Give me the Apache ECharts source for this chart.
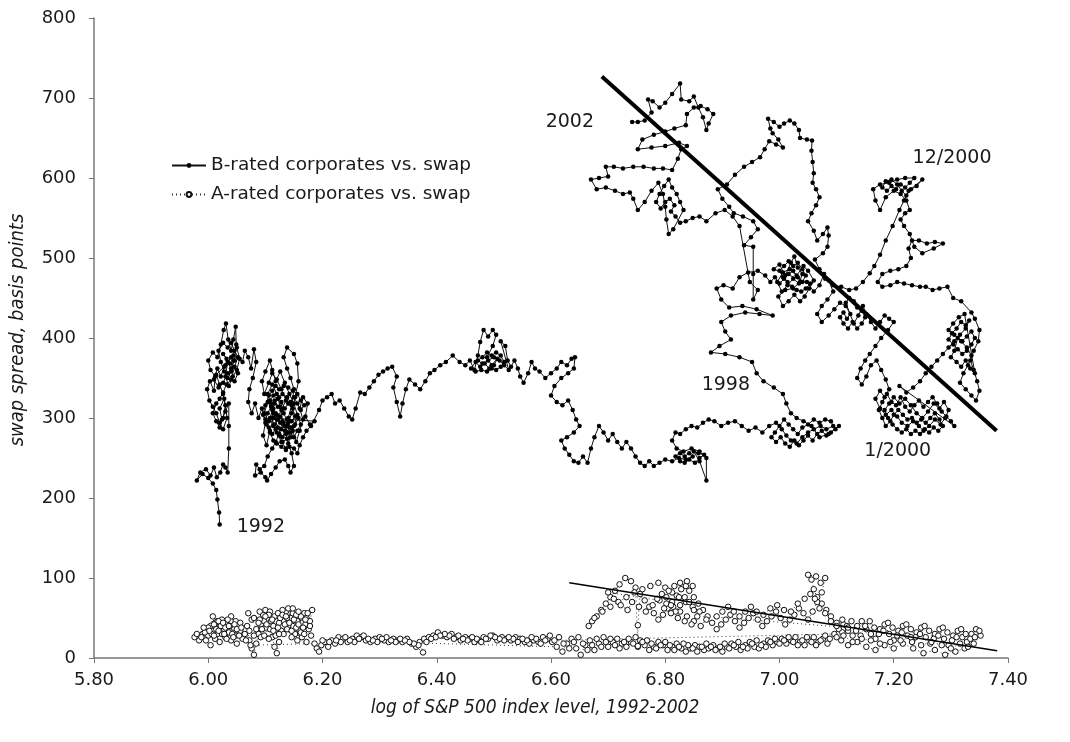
<!DOCTYPE html>
<html>
<head>
<meta charset="utf-8">
<script src="https://cdn.jsdelivr.net/npm/echarts@6/dist/echarts.min.js"></script>
<style>html,body{margin:0;padding:0;background:#fff}#c{width:1070px;height:742px}</style>
</head>
<body>
<div id="c"></div>
<script>
// x = log of S&P 500 index level, y = swap spread (bp)
const xTicks = [5.8, 6.0, 6.2, 6.4, 6.6, 6.8, 7.0, 7.2, 7.4];
const yTicks = [0, 100, 200, 300, 400, 500, 600, 700, 800];

// ---- B-rated corporates vs. swap, in time order ----
const b1992 = [
[6.020,167],[6.019,182],[6.016,198],[6.014,210],[6.008,218],[6.000,225],[5.990,230],[5.980,222],[5.986,232],[5.996,236],
[6.004,228],[6.010,238],[6.015,226],[6.021,232],[6.026,242],[6.030,238],[6.034,232],[6.036,262],[6.036,290],[6.036,318],
[6.030,308],[6.024,298],[6.020,312],[6.028,324],[6.033,300],[6.026,286],[6.020,294],[6.014,306],[6.008,314],[6.002,322],
[5.998,336],[6.003,346],[6.010,334],[6.012,352],[6.004,360],[6.000,372],[6.008,382],[6.016,376],[6.022,392],[6.027,410],
[6.031,418],[6.035,398],[6.040,384],[6.044,398],[6.048,414],[6.049,392],[6.046,372],[6.040,362],[6.034,370],[6.030,352],
[6.036,340],[6.043,352],[6.050,360],[6.055,374],[6.050,388],[6.040,376],[6.028,364],[6.022,352],[6.016,362],[6.010,348],
[6.018,338],[6.026,344],[6.034,356],[6.046,346],[6.052,356],
[6.026,380],[6.032,374],[6.038,368],[6.044,372],[6.040,358],[6.034,350],[6.028,358],[6.022,370],[6.018,384],[6.026,394],
[6.034,388],[6.040,394],[6.046,384],[6.052,376],[6.046,364],[6.040,348],[6.032,342],[6.026,332],[6.020,324],[6.014,318],
[6.008,306],[6.014,296],[6.020,288],[6.026,300],[6.030,316],[6.026,330],[6.020,342],[6.014,354],
[6.030,366],[6.044,378],[6.060,370],[6.064,384],[6.070,376]
];
const b1993 = [
[6.075,362],[6.080,386],[6.084,370],[6.078,350],[6.072,336],[6.070,320],[6.076,306],[6.082,318],[6.088,300],[6.094,312],
[6.100,294],[6.096,278],[6.102,266],[6.108,284],[6.114,300],[6.110,318],[6.104,330],[6.112,342],[6.120,330],[6.126,314],
[6.130,296],[6.124,280],[6.118,270],[6.112,262],[6.104,252],[6.098,240],[6.090,236],[6.084,242],[6.082,228],[6.092,232],
[6.100,226],[6.103,222],[6.110,230],[6.118,238],[6.125,246],[6.134,248],[6.140,240],[6.144,232],[6.150,240],[6.146,256],
[6.140,268],[6.134,284],[6.140,300],[6.146,316],[6.150,336],[6.144,350],[6.138,362],[6.132,376],[6.138,388],[6.150,380],
[6.156,368],[6.158,346],[6.152,326],[6.146,306],[6.138,290],[6.130,276],[6.122,288],[6.114,306],[6.106,296],[6.098,306],
[6.104,320],[6.112,310],[6.120,298],[6.128,310],[6.136,322],[6.128,336],[6.120,348],[6.112,356],[6.106,344],[6.098,330],
[6.094,346],[6.100,358],[6.108,372],[6.112,360],[6.118,346],[6.126,358],[6.134,344],[6.142,330],[6.150,318],[6.156,304],
[6.150,290],[6.144,276],[6.136,262],[6.128,270],[6.120,282],[6.114,290],[6.108,300],[6.116,318],[6.124,326],[6.132,306],
[6.140,294],[6.148,284],[6.154,270],[6.160,284],[6.166,298],[6.160,312],[6.166,326],[6.174,318],[6.170,302],[6.178,292],
[6.186,296],
[6.110,300],[6.116,292],[6.122,298],[6.118,306],[6.126,302],[6.132,294],[6.128,286],[6.136,280],[6.142,288],[6.138,298],
[6.146,296],[6.152,302],[6.148,312],[6.140,318],[6.134,312],[6.128,320],[6.122,314],[6.116,322],[6.110,314],[6.104,306],
[6.100,298],[6.106,288],[6.112,280],[6.118,286],[6.124,278],[6.130,270],[6.138,274],[6.144,282],[6.150,276],[6.156,284],
[6.162,292],[6.158,300],[6.152,292],[6.146,288],[6.140,282],[6.134,290],[6.126,294],[6.120,304],[6.114,312],[6.108,322],
[6.114,328],[6.122,324],[6.130,330],[6.138,326],[6.144,320],[6.150,326],[6.156,318],[6.162,310],[6.168,316],[6.162,322],
[6.156,330],[6.148,334],[6.140,338],[6.132,340],[6.124,336],[6.118,340],[6.112,334],[6.106,328],[6.100,316],[6.096,304],
[6.102,292],[6.108,282],[6.114,272],[6.120,268],[6.128,264],[6.136,260],[6.142,264],[6.150,262],[6.156,256],[6.160,266],
[6.166,276],[6.172,284],[6.180,290],[6.194,310],[6.200,322],[6.208,326],[6.216,330]
];
const b1995 = [
[6.222,318],[6.230,322],[6.238,312],[6.246,302],[6.252,298],[6.258,312],[6.266,332],[6.274,330],[6.282,338],[6.290,346],
[6.298,354],[6.306,358],[6.314,362],[6.322,364],[6.330,352],[6.324,338],[6.330,320],[6.336,302],[6.340,318],[6.346,336],
[6.352,348],[6.362,342],[6.371,336],[6.380,346],[6.388,356],[6.396,360],[6.406,366],[6.416,370],[6.428,378],[6.440,370],
[6.450,366],[6.458,372],[6.466,360],[6.472,378],[6.476,395],[6.482,410],[6.490,402],[6.498,410],[6.504,404],[6.498,390],
[6.488,376],[6.496,366],[6.506,374],
[6.500,366],[6.492,362],[6.484,368],[6.476,364],[6.468,370],[6.460,362],[6.468,358],[6.478,360],[6.488,358],[6.496,362],
[6.504,360],[6.512,364],[6.518,370],[6.512,378],[6.504,382],[6.496,378],[6.488,382],[6.480,376],[6.472,372],[6.480,368],
[6.490,372],[6.500,376],[6.510,372],[6.518,366],[6.526,360],
[6.512,396],[6.520,390],[6.524,372],[6.530,364],[6.536,372],[6.542,362],[6.546,352],
[6.552,344],[6.560,356],[6.566,370],[6.572,362],[6.580,358],[6.590,350],[6.600,356],[6.610,362],[6.618,370],[6.628,366],
[6.636,374],[6.642,376],[6.640,362],[6.630,356],[6.618,350],[6.606,340],[6.600,328],[6.610,320],[6.620,316],[6.630,322],
[6.638,310],[6.644,298],[6.650,290],[6.640,282],[6.628,276],[6.618,272],[6.624,262],[6.632,254],[6.640,246],[6.648,244],
[6.656,252],[6.664,244]
];
const b1997 = [
[6.670,262],[6.676,276],[6.684,290],[6.692,282],[6.700,272],[6.708,280],[6.716,270],[6.724,262],[6.732,270],[6.740,262],
[6.748,252],[6.756,244],[6.764,240],[6.772,246],[6.780,240],[6.790,244],[6.800,248],[6.812,246],[6.824,250],[6.836,248],
[6.848,252],
[6.842,256],[6.834,252],[6.826,256],[6.818,252],[6.826,246],[6.834,244],[6.842,248],[6.852,244],[6.860,250],[6.868,254],
[6.858,256],[6.850,258],
[6.860,246],[6.872,222],[6.872,250],[6.860,258],[6.846,262],[6.832,258],[6.820,262],[6.812,272],[6.818,282],
[6.826,280],[6.836,286],[6.846,290],[6.856,288],[6.866,294],[6.876,298],[6.886,296],[6.898,290],[6.910,294],[6.922,296],
[6.934,290],[6.946,284],[6.958,288],[6.970,282],[6.982,290],[6.994,294],[7.004,286],[7.012,278],[7.020,272],[7.030,268],
[7.040,276],[7.050,282],[7.060,286],[7.072,290],[7.082,286],[7.094,290],
[7.090,296],[7.080,298],[7.070,294],[7.060,298],[7.050,292],[7.040,288],[7.032,280],[7.024,286],[7.016,292],[7.008,298],
[7.000,290],[6.992,282],[6.986,276],[6.994,270],[7.002,276],[7.010,268],[7.018,264],[7.026,272],[7.034,266],[7.042,272],
[7.050,278],[7.058,272],[7.066,280],[7.074,284],[7.082,278],[7.090,282],[7.098,286],[7.104,290],
[7.086,280],[7.070,276],[7.056,290],[7.042,296],[7.030,300],[7.020,306],[7.012,318],[7.006,330]
];
const b1998 = [
[6.990,338],[6.972,346],[6.960,356],[6.952,370],[6.930,376],[6.905,380],[6.880,382],[6.895,390],[6.915,398],[6.905,408],
[6.898,420],[6.915,428],[6.940,432],[6.965,430],[6.988,428],[6.960,436],[6.935,440],[6.912,438],[6.898,448],[6.890,462],
[6.902,466],[6.918,462],[6.930,476],[6.945,482],[6.962,484],[6.975,478],
[6.984,470],[6.992,476],[7.000,468],[7.008,474],[7.016,480],[7.024,484],[7.032,476],[7.040,470],[7.046,478],[7.040,486],
[7.032,494],[7.024,490],[7.016,496],[7.008,490],[7.000,484],[7.006,476],[7.014,470],[7.022,464],[7.030,460],[7.038,458],
[7.046,462],[7.054,468]
];
const b1999 = [
[6.990,486],[7.000,492],[7.010,478],[7.020,494],[7.026,502],[7.032,488],[7.040,480],[7.034,468],[7.024,474],[7.014,466],
[7.004,458],[6.996,470],[7.006,482],[7.018,486],[7.030,478],[7.042,490],[7.050,484],[7.060,472],[7.052,462],[7.044,452],
[7.036,446],[7.026,454],[7.016,446],[7.006,440],[6.998,452],[7.010,460],[7.024,462],[7.036,470],[7.048,470],[7.060,458],
[7.070,466],[7.078,480],[7.086,472],[7.094,458],[7.084,448],[7.074,440],[7.066,430],[7.074,420],[7.086,428],[7.096,436],
[7.106,444],[7.116,440],[7.124,430],
[7.118,424],[7.112,432],[7.106,426],[7.112,418],[7.120,412],[7.128,420],[7.136,412],[7.144,418],[7.150,426],[7.144,434],
[7.136,438],[7.130,446],[7.122,450],[7.116,444],
[7.130,418],[7.138,428],[7.146,440],[7.152,430],[7.160,420],[7.168,412],[7.176,420],
[7.184,428],[7.192,424],[7.200,420],[7.190,410],[7.178,400],[7.168,390],[7.158,380],[7.150,372],[7.142,362],[7.136,350],
[7.144,342],[7.152,352],[7.160,366],[7.170,372],[7.178,360],[7.186,348],[7.192,336],[7.184,326],[7.176,334],[7.168,324],
[7.176,312],[7.186,304],[7.196,310],[7.206,302],[7.214,294],[7.224,290],[7.234,296],[7.244,290],[7.252,284],[7.262,290],
[7.272,298],[7.282,292],[7.290,300],[7.296,310],[7.288,320],[7.280,312],[7.270,318],[7.260,308],[7.250,300],[7.240,306],
[7.230,316],[7.220,324],[7.210,318],[7.200,326],
[7.192,318],[7.184,310],[7.190,300],[7.198,292],[7.206,286],[7.214,282],[7.222,286],[7.230,280],[7.238,284],[7.246,280],
[7.254,286],[7.262,282],[7.270,288],[7.278,284],[7.286,290],[7.280,298],[7.272,306],[7.264,300],[7.256,294],[7.248,298],
[7.240,294],[7.232,300],[7.224,298],[7.216,304],[7.208,310],[7.200,304],[7.194,296],[7.186,290],[7.180,300],[7.174,310],
[7.180,320],[7.188,330],[7.196,320],[7.204,316],[7.212,326],[7.220,314],[7.228,308],[7.236,316],[7.244,322],[7.252,314],
[7.260,320],[7.268,326],[7.276,318],[7.284,308],[7.292,302],[7.300,296],[7.306,290],
[7.210,340],[7.222,332],[7.234,338],[7.246,346],[7.256,356],[7.266,364],
[7.276,372],[7.286,380],[7.296,388],[7.306,396],[7.316,404],[7.326,412],[7.332,422],
[7.326,416],[7.318,420],[7.310,412],[7.302,406],[7.296,398],[7.304,392],[7.312,386],[7.320,380],[7.328,384],[7.336,392],
[7.342,400],[7.336,408],[7.328,402],[7.320,396],[7.312,400],[7.306,384],[7.300,376],[7.310,370],[7.318,364],[7.326,372],
[7.334,362],[7.342,356],
[7.324,430],[7.314,426],[7.304,418],
[7.296,410],[7.306,404],[7.318,396],[7.328,388],[7.336,378],[7.330,366],[7.322,356],[7.316,344],[7.326,336],[7.336,328],
[7.344,322],[7.350,334],[7.346,346],[7.340,360],[7.334,372],[7.340,384],[7.348,396],[7.350,410],[7.342,424],[7.336,432]
];
const b2000 = [
[7.318,446],[7.304,450],[7.294,464],[7.280,462],[7.268,460],[7.256,464],[7.246,464],[7.232,466],[7.218,468],[7.206,470],
[7.194,466],[7.180,464],[7.172,470],[7.180,480],[7.194,484],[7.208,486],[7.222,490],[7.230,500],[7.226,512],[7.232,522],
[7.244,522],[7.258,518],[7.272,520],[7.286,518],[7.270,512],[7.250,506],[7.236,514],[7.228,530],[7.218,540],[7.212,548],
[7.220,556],[7.228,560],[7.222,572],[7.212,580],[7.200,584],[7.186,576],[7.176,560],[7.168,572],[7.164,586],[7.176,592],
[7.192,594],[7.206,598],[7.220,600],[7.236,600],
[7.228,594],[7.220,588],[7.212,592],[7.204,586],[7.196,590],[7.188,584],[7.180,588],[7.186,596],[7.196,598],[7.206,592],
[7.214,584],[7.222,578],[7.230,586],
[7.250,598],[7.240,590],[7.226,584],[7.218,572],[7.210,560]
];
const b2001 = [
[7.198,540],[7.186,522],[7.176,504],[7.166,490],[7.158,481],[7.146,470],[7.134,462],[7.122,460],[7.108,464],[7.094,466],
[7.080,474],[7.070,486],[7.062,498],[7.076,506],[7.084,514],[7.086,528],[7.084,538],[7.076,530],[7.066,522],[7.060,534],
[7.050,546],[7.056,556],[7.064,566],[7.070,576],[7.064,586],[7.058,594],[7.060,606],[7.058,620],[7.056,634],[7.057,647],
[7.048,648],[7.036,650],[7.034,660],[7.026,668],[7.018,672],[7.008,668],[7.000,664],[6.990,670],[6.980,674],[6.984,662],
[6.988,656],[6.998,648],[7.006,638],[6.994,642],[6.982,646],[6.974,636],[6.966,626],[6.952,620],[6.938,614],[6.922,604],
[6.908,592],[6.892,586],[6.900,574],[6.912,564],[6.920,556],[6.936,552],[6.954,546],[6.962,536],[6.950,526],[6.938,516],
[6.954,514],[6.954,480],[6.954,448],[6.962,460],[6.948,470]
];
const b2002 = [
[6.930,540],[6.918,552],[6.904,560],[6.888,556],[6.872,546],[6.860,552],[6.848,550],[6.836,546],[6.826,544],
[6.818,552],[6.810,558],[6.816,566],[6.808,574],[6.800,570],[6.792,562],[6.784,570],[6.790,580],[6.798,590],[6.806,598],
[6.812,588],[6.820,580],[6.826,570],[6.832,560],[6.814,536],
[6.806,530],[6.802,548],[6.800,564],[6.796,580],[6.788,594],[6.776,584],[6.764,570],[6.752,560],[6.744,574],[6.738,582],
[6.726,580],[6.712,584],[6.696,588],[6.680,586],[6.670,598],[6.684,600],[6.700,602],[6.696,614],[6.710,614],[6.726,612],
[6.744,614],[6.762,614],[6.780,612],[6.796,612],[6.812,610],[6.822,624],[6.828,636],[6.838,640],[6.824,644],[6.800,640],
[6.776,638],[6.752,636],[6.760,648],[6.780,654],[6.800,658],[6.816,662],[6.836,666],[6.838,680],[6.850,688],[6.862,690],
[6.874,686],[6.884,680],[6.876,668],[6.872,660],[6.866,676],[6.858,688],[6.850,702],[6.842,696],[6.828,698],[6.826,718],
[6.812,705],[6.800,694],[6.790,688],[6.778,696],[6.770,698],[6.776,682],[6.764,672],[6.752,670],[6.742,670]
];

// ---- A-rated corporates vs. swap ----
const a1992 = [
[5.976,26],[5.984,22],[5.990,30],[5.996,36],[6.000,28],[6.004,40],[6.008,34],[6.012,44],[6.016,30],[6.020,38],
[6.024,48],[6.028,36],[6.032,42],[6.036,32],[6.040,46],[6.044,38],[6.048,28],[6.052,40],[6.056,34],[6.060,24],
[6.050,18],[6.040,22],[6.030,26],[6.020,20],[6.012,24],[6.004,16],[5.996,22],[6.008,52],[6.016,46],[6.024,30],
[6.032,24],[6.040,52],[6.048,46],[6.056,44],
[5.980,30],[5.988,26],[5.994,32],[6.000,38],[6.006,30],[6.010,42],[6.014,36],[6.018,46],[6.022,40],[6.026,44],
[6.030,38],[6.034,48],[6.038,40],[6.042,30],[6.046,42],[6.050,36],[6.054,28],[6.058,38],[6.044,26],[6.036,40],
[6.028,30],[6.018,34],[6.010,28],[6.002,34],[5.992,38]
];
const a1993 = [
[6.064,30],[6.068,40],[6.072,22],[6.076,12],[6.080,4],[6.084,18],[6.088,30],[6.092,42],[6.096,54],[6.100,60],
[6.104,48],[6.108,36],[6.112,26],[6.116,14],[6.120,6],[6.124,20],[6.128,34],[6.132,46],[6.136,58],[6.140,62],
[6.144,50],[6.148,40],[6.152,30],[6.156,22],[6.160,34],[6.164,44],[6.168,56],[6.172,50],[6.176,36],[6.180,28],
[6.172,20],[6.164,26],[6.156,46],[6.148,56],[6.140,40],[6.132,30],[6.124,44],[6.116,52],[6.108,58],[6.100,38],
[6.092,26],[6.084,36],[6.076,48],[6.070,56],[6.080,50],[6.090,58],[6.098,46],[6.106,24],[6.114,40],[6.122,56],
[6.130,60],[6.138,36],[6.146,26],[6.154,38],[6.162,52],[6.170,42],[6.178,46],[6.182,60],
[6.090,48],[6.094,36],[6.098,28],[6.102,42],[6.106,54],[6.110,46],[6.114,34],[6.118,28],[6.122,38],[6.126,50],
[6.130,54],[6.134,42],[6.138,50],[6.142,44],[6.146,34],[6.150,48],[6.154,54],[6.158,42],[6.162,32],[6.166,38],
[6.170,48],[6.174,56],[6.178,40],[6.168,30],[6.158,58],[6.148,62],[6.136,52],[6.124,30],[6.112,48],[6.100,52],
[6.088,44],[6.080,28],[6.072,34],[6.066,22],[6.074,16]
];
const a1995 = [
[6.186,18],[6.190,12],[6.194,8],[6.198,16],[6.204,20],[6.210,14],[6.216,22],[6.222,18],[6.228,26],[6.236,24],
[6.244,20],[6.252,24],[6.260,28],[6.268,26],[6.276,22],[6.284,20],[6.292,24],[6.300,26],[6.308,22],[6.316,20],
[6.324,24],[6.332,22],[6.340,20],[6.348,24],[6.356,18],[6.364,14],[6.376,7],[6.370,20],[6.378,24],[6.386,26],
[6.394,28],[6.402,32],[6.410,28],[6.418,26],[6.426,30],[6.434,26],[6.442,22],[6.450,26],[6.458,24],[6.466,20],
[6.474,22],[6.482,26],[6.490,24],[6.498,28],[6.506,22],[6.514,26],[6.522,24],[6.530,22],[6.538,26],[6.546,24],
[6.554,20],[6.562,18],[6.570,22],[6.578,20],[6.586,26],[6.594,24],[6.602,20],
[6.598,28],[6.590,22],[6.582,18],[6.574,24],[6.566,26],[6.558,22],[6.550,24],[6.542,20],[6.534,24],[6.526,26],
[6.518,22],[6.510,24],[6.502,26],[6.494,28],[6.486,24],[6.478,20],[6.470,24],[6.462,26],[6.454,22],[6.446,24],
[6.438,28],[6.430,24],[6.422,28],[6.414,30],[6.406,28],[6.398,26],[6.390,24],[6.382,20],[6.368,16],[6.360,18],
[6.352,20],[6.344,22],[6.336,24],[6.328,20],[6.320,22],[6.312,26],[6.304,24],[6.296,20],[6.288,22],[6.280,24],
[6.272,28],[6.264,24],[6.256,20],[6.248,22],[6.240,26],[6.232,20],[6.224,22],[6.212,20],[6.200,22]
];
const a1997 = [
[6.610,14],[6.620,8],[6.628,18],[6.636,24],[6.644,12],[6.652,4],[6.660,16],[6.668,22],[6.676,10],[6.684,18],
[6.692,26],[6.700,14],[6.708,20],[6.716,24],[6.724,18],[6.732,14],[6.740,20],[6.748,26],[6.756,22],[6.764,16],
[6.772,10],[6.780,14],[6.788,20],[6.796,16],[6.804,10],[6.812,14],[6.820,18],[6.828,12],[6.836,8],[6.844,12],
[6.852,16],[6.860,14],[6.868,10],[6.876,12],[6.884,16],[6.892,12],[6.900,8],[6.908,14],[6.916,18],[6.924,14],
[6.932,10],[6.940,16],[6.948,20],[6.956,14],[6.964,12],[6.972,18],[6.980,22],[6.988,16],[6.996,20],[7.004,24],
[7.012,18],[7.020,22],[7.028,26],[7.036,20],[7.044,16],[7.052,22],[7.060,26],[7.068,20],[7.076,24],[7.084,18],
[7.088,24],[7.080,28],[7.072,22],[7.064,16],[7.056,20],[7.048,26],[7.040,22],[7.032,16],[7.024,20],[7.016,26],
[7.008,22],[7.000,18],[6.992,24],[6.984,20],[6.976,14],[6.968,16],[6.960,22],[6.952,18],[6.944,12],[6.936,14],
[6.928,20],[6.920,16],[6.912,12],[6.904,18],[6.896,14],[6.888,10],[6.880,14],[6.872,18],[6.864,14],[6.856,8],
[6.848,12],[6.840,16],[6.832,18],[6.824,14],[6.816,10],[6.808,16],[6.800,20],[6.792,16],[6.784,12],[6.776,18],
[6.768,22],[6.760,20],[6.752,14],[6.744,18],[6.736,24],[6.728,20],[6.720,12],[6.712,16],[6.704,24],[6.696,20],
[6.688,14],[6.680,24],[6.672,16],[6.664,10],[6.656,18],[6.648,26],[6.640,20],[6.632,12],[6.622,18],[6.614,26],
[6.606,22]
];
const a1999 = [
[7.096,30],[7.104,36],[7.112,42],[7.120,34],[7.128,28],[7.136,40],[7.144,46],[7.152,36],[7.160,30],[7.168,24],
[7.176,36],[7.184,42],[7.192,30],[7.200,22],[7.208,34],[7.216,40],[7.224,28],[7.232,20],[7.240,32],[7.248,38],
[7.256,26],[7.264,18],[7.272,30],[7.280,36],[7.288,24],[7.296,16],[7.304,28],[7.312,34],[7.320,26],[7.328,20],
[7.336,30],[7.344,36],[7.352,28],[7.340,18],[7.324,12],[7.308,8],[7.290,4],[7.272,10],[7.252,6],[7.234,12],
[7.216,18],[7.200,12],[7.184,16],[7.168,10],[7.152,14],[7.136,20],[7.120,16],[7.108,22],
[7.100,26],[7.110,32],[7.118,40],[7.126,46],[7.134,34],[7.142,28],[7.150,40],[7.158,46],[7.166,38],[7.174,30],
[7.182,34],[7.190,44],[7.198,38],[7.206,28],[7.214,32],[7.222,42],[7.230,36],[7.238,26],[7.246,30],[7.254,40],
[7.262,34],[7.270,24],[7.278,28],[7.286,38],[7.294,32],[7.302,22],[7.310,26],[7.318,36],[7.326,30],[7.334,24],
[7.342,26],[7.350,34],[7.330,14],[7.316,18],[7.300,12],[7.284,16],[7.266,20],[7.248,16],[7.230,26],[7.212,22],
[7.194,20],[7.176,18],[7.160,22],[7.144,24],[7.128,20],[7.112,28]
];
const a2001 = [
[7.100,44],[7.090,52],[7.082,60],[7.074,68],[7.066,76],[7.060,86],[7.056,98],[7.050,104],[7.064,102],[7.072,94],
[7.080,100],[7.074,82],[7.066,70],[7.058,58],[7.050,48],[7.042,56],[7.034,62],[7.026,54],[7.018,48],[7.010,42],
[7.002,50],[6.994,58],[6.986,52],[6.978,46],[6.970,40],[6.962,48],[6.954,56],[6.946,50],[6.938,44],[6.930,38],
[6.922,46],[6.914,54],[6.906,48],[6.898,42],[6.890,36],[6.882,44],
[6.890,52],[6.900,58],[6.910,64],[6.920,58],[6.930,52],[6.940,58],[6.950,64],[6.960,58],[6.972,54],[6.984,62],
[6.996,66],[7.008,60],[7.020,58],[7.032,68],[7.044,74],[7.054,80],[7.062,74],[7.070,62],[7.080,56],[7.090,46],
[7.100,40],[7.110,48],[7.120,38]
];
const a2002 = [
[6.874,52],[6.866,60],[6.858,68],[6.850,76],[6.842,84],[6.836,90],[6.828,86],[6.820,78],[6.812,70],[6.804,62],
[6.796,54],[6.788,48],[6.780,56],[6.772,64],[6.764,72],[6.756,80],[6.752,41],[6.752,15],[6.748,88],[6.740,96],
[6.730,100],[6.720,92],[6.712,84],[6.704,76],[6.696,68],[6.688,60],[6.680,52],[6.672,46],[6.666,40],[6.676,50],
[6.690,58],[6.704,64],[6.718,70],[6.732,76],[6.746,82],[6.760,86],[6.774,90],[6.788,94],[6.800,88],[6.812,82],
[6.824,76],[6.836,70],[6.848,64],[6.860,58],[6.872,48],[6.862,40],[6.850,46],[6.838,52],[6.826,58],[6.814,64],
[6.802,68],[6.790,72],
[6.700,82],[6.710,74],[6.722,66],[6.734,60],[6.742,70],[6.754,64],[6.766,58],[6.778,66],[6.786,74],[6.794,80],
[6.802,76],[6.810,66],[6.818,58],[6.826,66],[6.834,76],[6.842,70],[6.850,60],[6.856,52],[6.846,42],[6.834,46],
[6.822,50],[6.810,56],[6.798,62],[6.806,84],[6.816,90],[6.826,94],[6.838,96],[6.848,90]
];

const bRated = [...b1992, ...b1993, ...b1995, ...b1997, ...b1998, ...b1999, ...b2000, ...b2001, ...b2002];
const aRated = [...a1992, ...a1993, ...a1995, ...a1997, ...a1999, ...a2001, ...a2002];

const bTrend = [[6.689, 727], [7.380, 284]];
const aTrend = [[6.632, 94], [7.381, 9]];

const annotations = [
  { text: '2002', x: 6.633, y: 670 },
  { text: '12/2000', x: 7.302, y: 625 },
  { text: '1998', x: 6.906, y: 341 },
  { text: '1/2000', x: 7.207, y: 259 },
  { text: '1992', x: 6.092, y: 164 }
];

const chart = echarts.init(document.getElementById('c'));
const txt = '#1a1a1a';
const font = 'DejaVu Sans';
chart.setOption({
  animation: false,
  backgroundColor: '#fff',
  grid: { left: 94, right: 62, top: 18, bottom: 84, containLabel: false },
  legend: {
    orient: 'vertical', left: 166, top: 151,
    itemWidth: 34, itemHeight: 6, itemGap: 10,
    textStyle: { fontFamily: font, fontSize: 18.5, color: txt },
    data: ['B-rated corporates vs. swap', 'A-rated corporates vs. swap']
  },
  xAxis: {
    type: 'value', min: xTicks[0], max: xTicks[xTicks.length - 1], interval: 0.2,
    axisLine: { lineStyle: { color: '#777', width: 1.5 } },
    axisTick: { show: true, length: 5, lineStyle: { color: '#777' } },
    splitLine: { show: false },
    axisLabel: { formatter: v => v.toFixed(2), color: txt, fontSize: 18, fontFamily: font, margin: 13 },
    name: 'log of S&P 500 index level, 1992-2002', nameLocation: 'middle', nameGap: 41,
    nameTextStyle: { fontStyle: 'italic', fontFamily: 'DejaVu Sans Condensed', fontSize: 19, color: txt,
                     padding: [0, 32, 0, 0] }
  },
  yAxis: {
    type: 'value', min: yTicks[0], max: yTicks[yTicks.length - 1], interval: 100,
    axisLine: { show: true, lineStyle: { color: '#777', width: 1.5 } },
    axisTick: { show: true, length: 5, lineStyle: { color: '#777' } },
    splitLine: { show: false },
    axisLabel: { color: txt, fontSize: 18, fontFamily: font, margin: 18 },
    name: 'swap spread, basis points', nameLocation: 'middle', nameGap: 66,
    nameTextStyle: { fontStyle: 'italic', fontFamily: 'DejaVu Sans Condensed', fontSize: 20, color: txt,
                     padding: [0, 0, 0, 16] }
  },
  series: [
    {
      name: 'A-rated corporates vs. swap', type: 'line', data: aRated,
      symbol: 'circle', symbolSize: 5.5, showAllSymbol: true,
      lineStyle: { color: '#333', width: 1, type: [1, 3] },
      itemStyle: { color: '#fff', borderColor: '#111', borderWidth: 1 },
      z: 2
    },
    {
      name: 'B-rated corporates vs. swap', type: 'line', data: bRated,
      symbol: 'circle', symbolSize: 4.5, showAllSymbol: true,
      lineStyle: { color: '#111', width: 1 },
      itemStyle: { color: '#000' },
      z: 3
    },
    {
      type: 'line', data: bTrend, symbol: 'none', silent: true,
      lineStyle: { color: '#000', width: 4 }, z: 5
    },
    {
      type: 'line', data: aTrend, symbol: 'none', silent: true,
      lineStyle: { color: '#000', width: 1.5 }, z: 5
    },
    {
      type: 'scatter', symbolSize: 0, silent: true, z: 6,
      itemStyle: { opacity: 1 },
      data: annotations.map(a => ({ value: [a.x, a.y], label: { show: true, formatter: a.text } })),
      label: { position: 'inside', color: txt, fontSize: 19, fontFamily: font, opacity: 1 }
    }
  ]
});
</script>
</body>
</html>
